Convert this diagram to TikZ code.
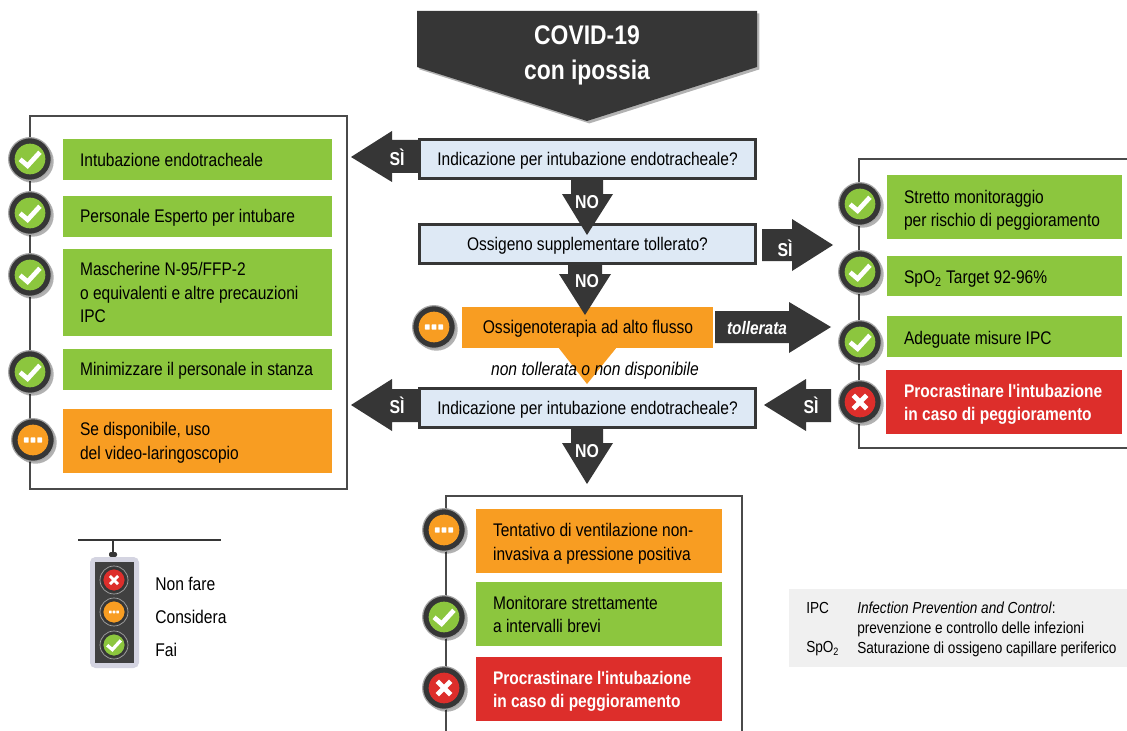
\documentclass[tikz,border=0pt]{standalone}
\usepackage{fontspec}
\setmainfont{Liberation Sans}[FakeStretch=0.85,Ligatures=TeXOff]
\usetikzlibrary{shadows,calc}
\definecolor{dk}{HTML}{363636}
\definecolor{gr}{HTML}{8CC63E}
\definecolor{og}{HTML}{F89D22}
\definecolor{rd}{HTML}{DD2E2B}
\definecolor{bl}{HTML}{DEE9F5}
\newcommand{\fs}[2]{\fontsize{#1}{#2}\selectfont}
\newcommand{\low}[1]{\raisebox{-4.6pt}[0pt][0pt]{#1}}
\tikzset{
 x=0.75pt,y=-0.75pt,
 qbox/.style={draw=dk,line width=2.4pt,fill=bl,inner sep=0pt,text=black,font=\fs{13.7}{17}},
 frameline/.style={draw=dk!90,line width=1.6pt},
 darrow/.style={fill=dk},
 alab/.style={text=white,font=\bfseries\fs{14}{16},inner sep=0pt},
 softshadow/.style={drop shadow={shadow xshift=1.8pt,shadow yshift=-1.8pt,opacity=.3,fill=black}},
 btext/.style={anchor=west,align=left,inner sep=0pt,font=\fs{13.7}{17.6}},
 bwhite/.style={text=white,font=\bfseries\fs{13.66}{17.6}},
 ring/.style={circle,fill=dk,draw=gray!70,line width=.9pt,minimum size=32pt,inner sep=0pt,softshadow},
 lamp/.style={circle,minimum size=23pt,inner sep=0pt},
 legtxt/.style={anchor=west,inner sep=0pt,font=\fs{13.8}{16}},
 notetxt/.style={anchor=west,inner sep=0pt,font=\fs{12}{14}}
}
% \abox{name}{x1}{y1}{x2}{y2}{fill}{text options}{text}
\newcommand{\abox}[8]{%
 \pgfmathsetmacro{\bw}{(#4-#2)*0.75}\pgfmathsetmacro{\bh}{(#5-#3)*0.75}%
 \node[fill=#6,inner sep=0pt,minimum width=\bw pt,minimum height=\bh pt] (#1) at ({(#2+#4)/2},{(#3+#5)/2}) {};
 \node[btext,#7] (#1t) at ([xshift=12.8pt]#1.west) {#8};
}
% icons
\newcommand{\icCheck}[3]{\draw[white,line width=#3*0.22pt,line cap=butt,line join=miter] ($(#1,#2)+(-#3*.62,#3*.02)$) -- ($(#1,#2)+(-#3*.15,#3*.42)$) -- ($(#1,#2)+(#3*.62,#3*-.42)$);}
\newcommand{\icCross}[3]{\draw[white,line width=#3*0.25pt] ($(#1,#2)+(-#3*.48,-#3*.48)$) -- ($(#1,#2)+(#3*.48,#3*.48)$) ($(#1,#2)+(-#3*.48,#3*.48)$) -- ($(#1,#2)+(#3*.48,-#3*.48)$);}
\newcommand{\icDots}[3]{\foreach \dd in {-.48,0,.48}{\fill[white,rounded corners=.3pt] ($(#1,#2)+(\dd*#3-.17*#3,-.18*#3)$) rectangle ($(#1,#2)+(\dd*#3+.17*#3,.18*#3)$);}}
% \sem{name}{x}{y}{type}
\newcommand{\sem}[4]{%
 \node[ring] (#1) at (#2,#3) {};
 \ifx c#4 \node[lamp,fill=gr] at (#1) {}; \icCheck{#2}{#3}{16}
 \else\ifx o#4 \node[lamp,fill=og] at (#1) {}; \icDots{#2}{#3}{14}
 \else \node[lamp,fill=rd] at (#1) {}; \icCross{#2}{#3}{14}
 \fi\fi
}
% small traffic light
\newcommand{\lsem}[5]{%
 \node[circle,fill=#4,draw=dk,line width=1.6pt,minimum size=17.6pt,inner sep=0pt,outer sep=0pt] (#1in) at (#2,#3) {};
 \node[circle,draw=gray!70,line width=.5pt,minimum size=21pt,inner sep=0pt] (#1) at (#2,#3) {};
 #5
}
\begin{document}
\begin{tikzpicture}
\useasboundingbox (0,0) rectangle (1127,731);
\fill[white] (0,0) rectangle (1127,731);

% frames
\coordinate (lf1) at (30,116); \coordinate (lf2) at (347,489);
\draw[frameline] (lf1) rectangle (lf2);
\coordinate (rf1) at (859,159); \coordinate (rf2) at (1135,448);
\draw[frameline] (rf1) rectangle (rf2);
\coordinate (bf1) at (446,496); \coordinate (bf2) at (742,740);
\draw[frameline] (bf1) rectangle (bf2);

% title
\fill[dk,softshadow] (417,11) -- (757,11) -- (757,67) -- (587,121) -- (417,67) -- cycle;
\node[text=white,font=\bfseries\fs{20.2}{26},align=center,inner sep=0pt] (title) at (587,55.5) {COVID-19\\con ipossia};

% orange triangle + box
\fill[og] (558,347) -- (617,347) -- (587,384) -- cycle;
\abox{hf}{462}{307}{713}{348}{og}{}{}
\node[inner sep=0pt,font=\fs{13.8}{16}] (hft) at (588,329) {Ossigenoterapia ad alto flusso};
\node[inner sep=0pt,font=\itshape\fs{13.8}{16}] (nt) at (595,370.5) {non tollerata o non disponibile};
\sem{s0}{434}{327}{o}

% question boxes
\node[qbox,minimum width=252.5pt,minimum height=29.5pt] (q1) at (587.5,159) {\low{Indicazione per intubazione endotracheale?}};
\node[qbox,minimum width=252.5pt,minimum height=29.5pt] (q2) at (587.5,244) {\low{Ossigeno supplementare tollerato?}};
\node[qbox,minimum width=252.5pt,minimum height=29.5pt] (q3) at (587.5,408) {\low{Indicazione per intubazione endotracheale?}};

% block arrows
\fill[darrow] (418,140) -- (392,140) -- (392,131) -- (351,157) -- (392,182) -- (392,173) -- (418,173) -- cycle;
\node[alab] (a1) at (397,157) {SÌ};
\fill[darrow] (571,180) -- (603,180) -- (603,194) -- (613,194) -- (587,235) -- (562,194) -- (571,194) -- cycle;
\node[alab] (a2) at (587,202) {NO};
\fill[darrow] (762,229) -- (792,229) -- (792,219) -- (833,245) -- (792,271) -- (792,261) -- (762,261) -- cycle;
\node[alab] (a3) at (785,248) {SÌ};
\fill[darrow] (568,265) -- (602,265) -- (602,274) -- (611,274) -- (585,315) -- (559,274) -- (568,274) -- cycle;
\node[alab] (a4) at (587,281) {NO};
\fill[darrow] (715,311) -- (789,311) -- (789,302) -- (831,327) -- (789,353) -- (789,343) -- (715,343) -- cycle;
\node[alab,font=\bfseries\itshape\fs{13.6}{16}] (a5) at (757,328) {tollerata};
\fill[darrow] (418,389) -- (392,389) -- (392,379) -- (351,405) -- (392,431) -- (392,422) -- (418,422) -- cycle;
\node[alab] (a6) at (397,405) {SÌ};
\fill[darrow] (831,389) -- (806,389) -- (806,379) -- (764,405) -- (806,431) -- (806,422) -- (831,422) -- cycle;
\node[alab] (a7) at (811,405) {SÌ};
\fill[darrow] (571,428) -- (603,428) -- (603,443) -- (613,443) -- (587,484) -- (562,443) -- (571,443) -- cycle;
\node[alab] (a8) at (587,451) {NO};

% left column
\abox{l1}{63}{139}{332}{180}{gr}{yshift=-.6pt}{Intubazione endotracheale}
\abox{l2}{63}{196}{332}{237}{gr}{yshift=-.6pt}{Personale Esperto per intubare}
\abox{l3}{63}{249}{332}{336}{gr}{}{Mascherine N-95/FFP-2\\o equivalenti e altre precauzioni\\IPC}
\abox{l4}{63}{349}{332}{390}{gr}{yshift=-.6pt}{Minimizzare il personale in stanza}
\abox{l5}{63}{409}{332}{473}{og}{yshift=-1.5pt}{Se disponibile, uso\\del video-laringoscopio}
\sem{sl1}{30}{159}{c}
\sem{sl2}{30}{213}{c}
\sem{sl3}{30}{275}{c}
\sem{sl4}{30}{372}{c}
\sem{sl5}{33}{440}{o}

% right column
\abox{r1}{887}{175}{1122}{239}{gr}{yshift=-2.6pt}{Stretto monitoraggio\\per rischio di peggioramento}
\abox{r2}{887}{256}{1122}{296}{gr}{yshift=-2.2pt}{SpO\textsubscript{2} Target 92-96\%}
\abox{r3}{887}{316}{1122}{357}{gr}{yshift=-2.2pt}{Adeguate misure IPC}
\abox{r4}{886}{370}{1122}{434}{rd}{bwhite,xshift=.8pt,yshift=-1.8pt}{Procrastinare l'intubazione\\in caso di peggioramento}
\sem{sr1}{860}{204}{c}
\sem{sr2}{860}{272}{c}
\sem{sr3}{860}{342}{c}
\sem{sr4}{860}{402}{x}

% bottom column
\abox{b1}{476}{509}{722}{573}{og}{yshift=-2pt}{Tentativo di ventilazione non-\\invasiva a pressione positiva}
\abox{b2}{476}{582}{722}{646}{gr}{yshift=-.5pt}{Monitorare strettamente\\a intervalli brevi}
\abox{b3}{476}{657}{722}{721}{rd}{bwhite,yshift=-1.8pt}{Procrastinare l'intubazione\\in caso di peggioramento}
\sem{sb1}{444}{530}{o}
\sem{sb2}{444}{617}{c}
\sem{sb3}{444}{688}{x}

% traffic light legend
\coordinate (tl1) at (78,540); \coordinate (tl2) at (221,540); \coordinate (tl3) at (113,540);
\draw[dk,line width=1.3pt] (tl1) -- (tl2);
\draw[dk,line width=1.1pt] (tl3) -- (113,553);
\fill[dk,rounded corners=1.5pt] (109,557) -- (109,552) -- (117,552) -- (117,557) -- cycle;
\fill[gray!25!white!95!blue,rounded corners=4pt] (90,557) rectangle (139,668);
\fill[dk!95] (95,562) rectangle (134,663);
\lsem{t1}{114}{580}{rd}{\icCross{114}{580}{8.5}}
\lsem{t2}{114}{612}{og}{\icDots{114}{612}{7.5}}
\lsem{t3}{114}{645}{gr}{\icCheck{114}{645}{11}}
\node[legtxt] (t1l) at (155,584) {Non fare};
\node[legtxt] (t2l) at (155,617) {Considera};
\node[legtxt] (t3l) at (155,650) {Fai};

% abbreviations
\fill[black!6] (789,589) rectangle (1127,667);
\node[notetxt] (n1) at (806,608) {IPC};
\node[notetxt] (n2) at (857,608) {\textit{Infection Prevention and Control}:};
\node[notetxt] (n3) at (857,629) {prevenzione e controllo delle infezioni};
\node[notetxt] (n4) at (806,649) {SpO\textsubscript{2}};
\node[notetxt] (n5) at (857,649) {Saturazione di ossigeno capillare periferico};
\end{tikzpicture}
\end{document}
